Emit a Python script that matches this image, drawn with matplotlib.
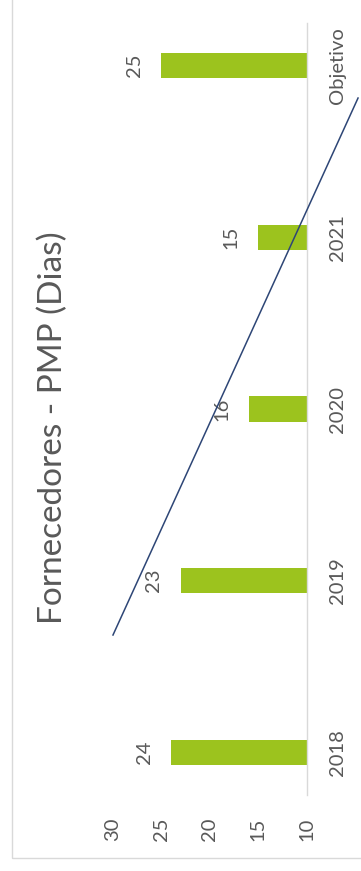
import numpy as np
import matplotlib
matplotlib.use("Agg")
import matplotlib.pyplot as plt
from matplotlib.patches import Rectangle

plt.rcParams['font.family'] = ['Lato', 'DejaVu Sans']

# Data
categories = ["2018", "2019", "2020", "2021", "Objetivo"]
values = [24, 23, 16, 15, 25]
value_ticks = [10, 15, 20, 25, 30]
title = "Fornecedores - PMP (Dias)"

# hand-drawn trend line (category position, value)
trend_cat = [0.684, 3.811]
trend_val = [30.0, 4.70]

bar_color = "#9CC31E"
text_color = "#595959"
line_color = "#2E4676"

fig = plt.figure(figsize=(3.61, 8.71), dpi=100)

# chart area border (only left and bottom are inside the crop)
fig.patches.append(Rectangle((12 / 361, 13 / 871), 1.2, 1.2, transform=fig.transFigure,
                             fill=False, edgecolor="#D9D9D9", linewidth=1.0))

ax = fig.add_axes([0.313, 0.0868, 0.5366, 0.8872])
pos = np.arange(len(categories))
vals = np.array(values)

ax.barh(pos, vals - 10, left=10, height=0.146, color=bar_color, zorder=2)

for p, v in zip(pos, vals):
    ax.annotate(str(v), xy=(v, p), xytext=(-19.5, 0), textcoords="offset points",
                rotation=90, ha="center", va="center", fontsize=14.5, color=text_color)

ax.plot(trend_val, trend_cat, color=line_color, linewidth=1.1, clip_on=False, zorder=3)

ax.set_xlim(30, 10)
ax.set_ylim(-0.25, 4.25)
ax.set_xticks(value_ticks)
ax.set_xticklabels([str(t) for t in value_ticks], rotation=90, fontsize=14.5, color=text_color,
                   va="top", ha="center")
ax.set_yticks(pos)
ax.set_yticklabels(categories, rotation=90, fontsize=14.5, color=text_color, va="center")
ax.yaxis.tick_right()
ax.tick_params(axis="x", length=0, pad=16)
ax.tick_params(axis="y", length=0, pad=16)

for s in ["top", "left", "bottom"]:
    ax.spines[s].set_visible(False)
ax.spines["right"].set_color("#D9D9D9")
ax.spines["right"].set_linewidth(1.0)

fig.text(53 / 361, 1 - 428 / 871, title, rotation=90, ha="center", va="center",
         fontsize=24, color=text_color)

fig.savefig("out.png", dpi=100, facecolor="white")
